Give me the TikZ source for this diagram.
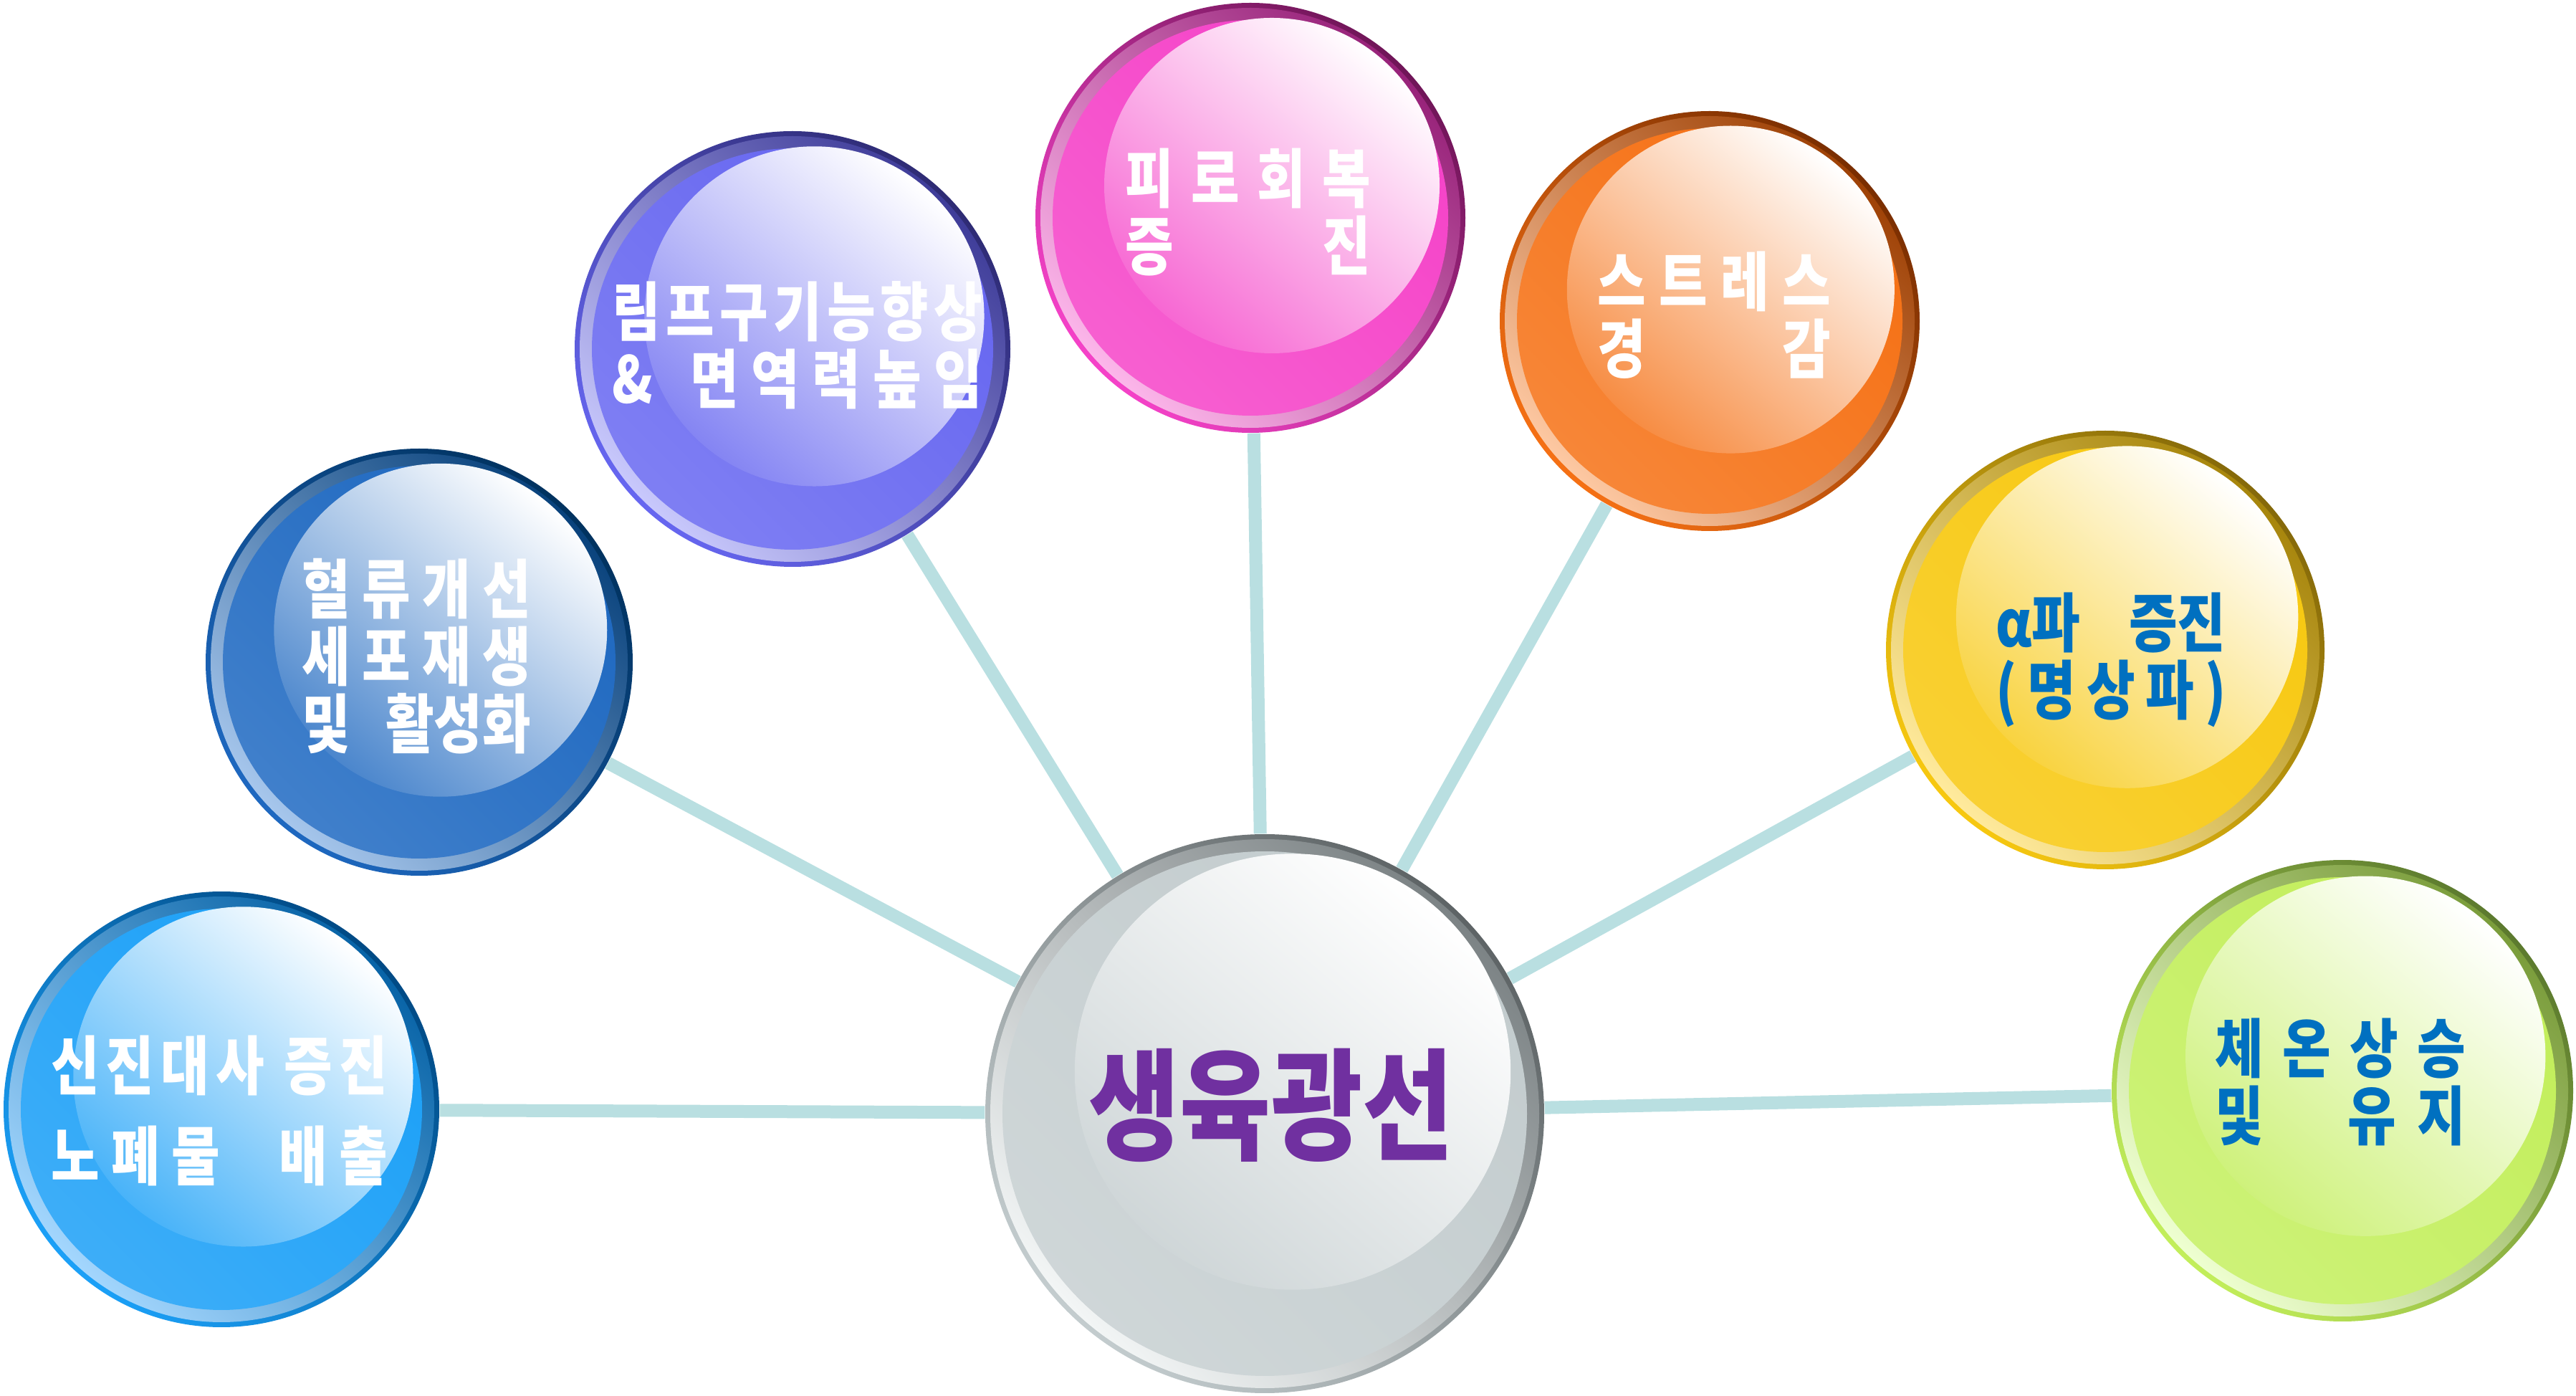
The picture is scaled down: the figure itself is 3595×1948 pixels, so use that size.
\documentclass[tikz,border=0pt]{standalone}
\usepackage{fontspec}
\newfontfamily\krfont{Noto Sans CJK KR}[FakeStretch=0.82]
\usetikzlibrary{backgrounds}
% ball colours: dk = top-right rim, md = body, lt = lower-left bevel
\definecolor{dkmet}{HTML}{004A85}     \definecolor{mdmet}{HTML}{1BA0F7}     \definecolor{ltmet}{HTML}{A3D6FD}
\definecolor{dkblood}{HTML}{00325F}   \definecolor{mdblood}{HTML}{1E68C0}   \definecolor{ltblood}{HTML}{A6C6EC}
\definecolor{dklymph}{HTML}{2E2B74}   \definecolor{mdlymph}{HTML}{6666F0}   \definecolor{ltlymph}{HTML}{C8C8FC}
\definecolor{dkfatigue}{HTML}{701558} \definecolor{mdfatigue}{HTML}{F542C8} \definecolor{ltfatigue}{HTML}{FCB6EA}
\definecolor{dkstress}{HTML}{7A2E00}  \definecolor{mdstress}{HTML}{F57014}  \definecolor{ltstress}{HTML}{FDC8A2}
\definecolor{dkalpha}{HTML}{85690A}   \definecolor{mdalpha}{HTML}{F7C810}   \definecolor{ltalpha}{HTML}{FFEA9C}
\definecolor{dktemp}{HTML}{5C7A2E}    \definecolor{mdtemp}{HTML}{C2EE5A}    \definecolor{lttemp}{HTML}{EEFFD0}
\definecolor{dkhub}{HTML}{5E6466}     \definecolor{mdhub}{HTML}{C3CCCE}     \definecolor{lthub}{HTML}{F2F5F5}
\definecolor{spokecol}{HTML}{B9DFE1}
\definecolor{txtblue}{HTML}{0070C0}
\definecolor{txtpurple}{HTML}{7030A0}

\begin{document}
\begin{tikzpicture}[
    x=0.1mm, y=-0.1mm,
    rim/.style={circle, inner sep=0pt, top color=dk#1, bottom color=md#1,
        shading angle=-45},
    bevel/.style={circle, inner sep=0pt, top color=dk#1!70!md#1,
        bottom color=lt#1, shading angle=-45},
    body/.style={circle, inner sep=0pt, top color=md#1,
        bottom color=md#1!75!lt#1, shading angle=-45},
    gloss/.style={circle, inner sep=0pt, top color=white,
        bottom color=md#1!80!white, shading angle=-40},
    spoke/.style={draw=spokecol, line width=1.8mm},
    lbl/.style={inner sep=0pt, align=center, text=white,
        font=\krfont\bfseries\fontsize{25.5}{26.7}\selectfont},
]
\useasboundingbox (0,0) rectangle (3595,1948);

% ===== balls: rim, bevel, body, gloss =====
\foreach \n/\x/\y/\r in {met/309/1548/304, blood/585/924/298,
    lymph/1106/487/304, fatigue/1745/304/300, stress/2386/448/293,
    alpha/2938/907/306, temp/3269/1522/322, hub/1765/1554/390} {
  \node[rim=\n, minimum size=0.2mm*\r] (\n) at (\x,\y) {};
  \node[bevel=\n, minimum size=0.2mm*(\r-7)] (\n-bev) at (\x,\y) {};
  \node[body=\n, minimum size=0.2mm*(\r-24)] (\n-body) at (\x,\y) {};
  \node[gloss=\n, minimum size=0.156mm*\r] (\n-gls)
      at (\x+0.1*\r,\y-0.15*\r) {};
}

% spokes behind the balls
\begin{scope}[on background layer]
\foreach \b in {met, blood, lymph, fatigue, stress, alpha, temp}
    \draw[spoke] (hub) -- (\b);
\end{scope}

% ===== labels =====
\node[lbl, font=\krfont\bfseries\fontsize{25.5}{35.7}\selectfont] (met-t)
    at (306,1550)
    {\makebox[47mm]{신\hfill 진\hfill 대\hfill 사\hfill\hfill\hfill 증\hfill 진}\\
     \makebox[47mm]{노\hfill 폐\hfill 물\hfill\hfill\hfill\hfill\hfill 배\hfill 출}};
\node[lbl] (blood-t) at (581,916)
    {\makebox[32mm]{혈\hfill 류\hfill 개\hfill 선}\\
     \makebox[32mm]{세\hfill 포\hfill 재\hfill 생}\\
     \makebox[32mm]{및\hfill 활성화}};
\node[lbl] (lymph-t) at (1113,482)
    {\makebox[51.7mm]{림\hfill 프\hfill 구\hfill 기\hfill 능\hfill 향\hfill 상}\\
     \makebox[51.7mm]{\&\hfill\hfill\hfill 면\hfill 역\hfill 력\hfill 높\hfill 임}};
\node[lbl] (fatigue-t) at (1742,296)
    {\makebox[34.3mm]{피\hfill 로\hfill 회\hfill 복}\\
     \makebox[34.3mm]{증\hfill 진}};
\node[lbl] (stress-t) at (2392,440)
    {\makebox[32.6mm]{스\hfill 트\hfill 레\hfill 스}\\
     \makebox[32.6mm]{경\hfill 감}};
\node[lbl, text=txtblue] (alpha-t) at (2946,921)
    {\makebox[32.1mm]{α파\hfill 증진}\\
     \makebox[32.1mm]{(\hfill 명\hfill 상\hfill 파\hfill )}};
\node[lbl, text=txtblue] (temp-t) at (3266,1510)
    {\makebox[35mm]{체\hfill 온\hfill 상\hfill 승}\\
     \makebox[35mm]{및\hfill\hfill\hfill\hfill 유\hfill 지}};
\node[lbl, text=txtpurple, font=\krfont\bfseries\fontsize{48}{50}\selectfont]
    (hub-t) at (1774,1542) {생육광선};

\end{tikzpicture}
\end{document}
